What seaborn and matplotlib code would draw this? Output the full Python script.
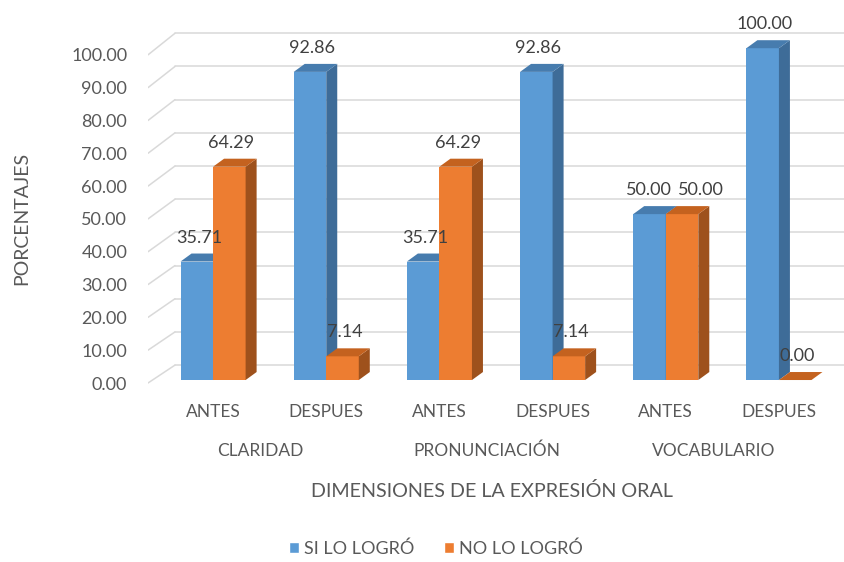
import numpy as np
import pandas as pd
import matplotlib
matplotlib.use("Agg")
import matplotlib.pyplot as plt
from matplotlib.patches import Polygon, Patch
import seaborn as sns

# data
dimensiones = ["CLARIDAD", "PRONUNCIACIÓN", "VOCABULARIO"]
momentos = ["ANTES", "DESPUES"]
series = ["SI LO LOGRÓ", "NO LO LOGRÓ"]
si_lo_logro = [35.71, 92.86, 35.71, 92.86, 50.00, 100.00]
no_lo_logro = [64.29, 7.14, 64.29, 7.14, 50.00, 0.00]
y_ticks = [0, 10, 20, 30, 40, 50, 60, 70, 80, 90, 100]

blue, orange = "#5b9bd5", "#ed7d31"
side_col = {blue: "#3e6c98", orange: "#9e511c"}
top_col = {blue: "#477cae", orange: "#c4621f"}
txt = "#595959"

cats = [d + "|" + m for d in dimensiones for m in momentos]
df = pd.DataFrame({
    "cat": cats * 2,
    "serie": [series[0]] * 6 + [series[1]] * 6,
    "pct": si_lo_logro + no_lo_logro,
})

sns.set_theme(style="white")
plt.rcParams["font.family"] = ["Lato", "DejaVu Sans"]

W, H = 844, 562
fig = plt.figure(figsize=(W / 100, H / 100), dpi=100)
ax_l, ax_r, ax_b, ax_t = 148, 844, 385, 20
ax = fig.add_axes([ax_l / W, 1 - ax_b / H, (ax_r - ax_l) / W, (ax_b - ax_t) / H])

sns.barplot(data=df, x="cat", y="pct", hue="serie", order=cats, hue_order=series,
            palette=[blue, orange], width=0.575, saturation=1, linewidth=0,
            legend=False, ax=ax)

ax.set_xlim(-0.575, 5.575)
ax.set_ylim(-1.5, 108.5)

# pixel -> data unit helpers
px_x = (5.575 + 0.575) / (ax_r - ax_l)
px_y = (108.5 + 1.5) / (ax_b - ax_t)
dx, dy = 11 * px_x, 8 * px_y

# equal-height neighbours get their labels pushed apart (like Excel does)
ties = {i for i in range(len(cats)) if abs(si_lo_logro[i] - no_lo_logro[i]) < 3}

# fake 3D: side and top faces from each bar
for p in list(ax.patches):
    x0, w, h = p.get_x(), p.get_width(), p.get_height()
    x1 = x0 + w
    col = matplotlib.colors.to_hex(p.get_facecolor()).lower()
    z = 3 if col == orange else 2
    p.set_zorder(z)
    ax.add_patch(Polygon([(x1, 0), (x1, h), (x1 + dx, h + dy), (x1 + dx, dy)],
                         closed=True, facecolor=side_col[col], lw=0, zorder=z))
    ax.add_patch(Polygon([(x0, h), (x1, h), (x1 + dx, h + dy), (x0 + dx, h + dy)],
                         closed=True, facecolor=top_col[col], lw=0, zorder=z))
    off = 2
    if int(round(x0 + w / 2)) in ties:
        off = 19 if col == orange else -1
    ax.annotate(f"{h:.2f}", xy=(x0 + w / 2, h), xytext=(off, 24), textcoords="offset pixels",
                ha="center", va="center", fontsize=13, color="#404040", zorder=5)

# gridlines on back wall + left floor slant
back_x0 = -0.575 + 27 * px_x
lab_pos = [v - 0.9 - 0.011 * v for v in y_ticks]
for v, lp in zip(y_ticks, lab_pos):
    ax.plot([back_x0, 5.575], [v + 4.5, v + 4.5], color="#D9D9D9", lw=1.1, zorder=0)
    ax.plot([-0.575, back_x0], [lp, v + 4.5], color="#D9D9D9", lw=1.1, zorder=0)

for s in ax.spines.values():
    s.set_visible(False)
ax.grid(False)
ax.set_yticks(lab_pos)
ax.set_yticklabels([f"{v:.2f}" for v in y_ticks])
ax.tick_params(axis="y", length=0, pad=15, labelsize=13, labelcolor=txt)

ax.set_xticks(range(len(cats)))
ax.set_xticklabels(momentos * 3)
ax.tick_params(axis="x", length=0, pad=14, labelsize=12.5, labelcolor=txt)
ax.set_xlabel("")
ax.set_ylabel("")

for i, d in enumerate(dimensiones):
    ax.annotate(d, xy=(2 * i + 0.5 - 0.08, 0), xycoords=ax.get_xaxis_transform(),
                xytext=(0, -(451 - ax_b)), textcoords="offset pixels",
                ha="center", va="center", fontsize=12.5, color=txt)

fig.text(492 / W, 1 - 491 / H, "DIMENSIONES DE LA EXPRESIÓN ORAL",
         ha="center", va="center", fontsize=14.2, color=txt)
fig.text(22 / W, 1 - 218 / H, "PORCENTAJES", rotation=90,
         ha="center", va="center", fontsize=14, color=txt)

handles = [Patch(facecolor=blue), Patch(facecolor=orange)]
fig.legend(handles, series, loc="center", bbox_to_anchor=(436 / W, 1 - 549 / H),
           ncol=2, frameon=False, fontsize=13, labelcolor=txt,
           handlelength=0.55, handleheight=0.55, handletextpad=0.3, columnspacing=1.6)

fig.savefig("out.png", dpi=100)
